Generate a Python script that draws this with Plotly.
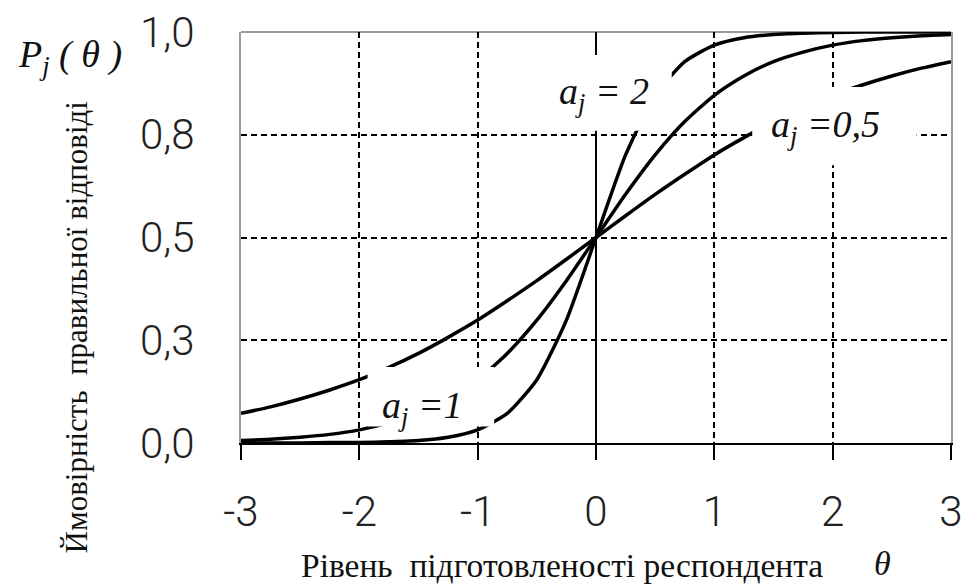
import plotly.graph_objects as go

# ---- data ----
theta = [-3.0, -2.75, -2.5, -2.25, -2.0, -1.75, -1.5, -1.25, -1.0, -0.75, -0.5, -0.25, 0.0,
         0.25, 0.5, 0.75, 1.0, 1.25, 1.5, 1.75, 2.0, 2.25, 2.5, 2.75, 3.0]
p_a05 = [0.072, 0.088, 0.107, 0.129, 0.154, 0.184, 0.218, 0.257, 0.299, 0.346, 0.395, 0.447, 0.500,
         0.553, 0.605, 0.654, 0.701, 0.743, 0.782, 0.816, 0.846, 0.871, 0.893, 0.912, 0.928]
p_a1 = [0.006, 0.009, 0.014, 0.021, 0.032, 0.049, 0.072, 0.107, 0.154, 0.218, 0.299, 0.395, 0.500,
        0.605, 0.701, 0.782, 0.846, 0.893, 0.928, 0.951, 0.968, 0.979, 0.986, 0.991, 0.994]
p_a2 = [0.000, 0.000, 0.000, 0.001, 0.001, 0.003, 0.006, 0.014, 0.032, 0.072, 0.154, 0.299, 0.500,
        0.701, 0.846, 0.928, 0.968, 0.986, 0.994, 0.997, 0.999, 1.000, 1.000, 1.000, 1.000]

x_tickvals = [-3, -2, -1, 0, 1, 2, 3]
x_ticktext = ["-3", "-2", "-1", "0", "1", "2", "3"]
y_tickvals = [0, 0.25, 0.5, 0.75, 1.0]
y_ticktext = ["0,0", "0,3", "0,5", "0,8", "1,0"]

label_a1 = "<i>a<sub>j</sub> =1</i>"
label_a2 = "<i>a<sub>j</sub> = 2</i>"
label_a05 = "<i>a<sub>j</sub> =0,5</i>"
x_title = "Рівень  підготовленості респондента"
y_title = "Ймовірність  правильної відповіді"

SERIF = "Liberation Serif, Times New Roman, serif"
TICKF = "Roboto, Liberation Sans, sans-serif"

fig = go.Figure()
for ys in (p_a05, p_a1, p_a2):
    fig.add_trace(go.Scatter(x=theta, y=ys, mode="lines",
                             line=dict(color="black", width=3.5, shape="spline", smoothing=0.6),
                             hoverinfo="skip"))

grid = dict(showgrid=True, gridcolor="black", gridwidth=2, griddash="6px,4px")
tickfont = dict(family=TICKF, size=42, color="#222", weight=300)

fig.update_xaxes(range=[-3, 3], tickmode="array", tickvals=x_tickvals, ticktext=x_ticktext,
                 automargin=False,
                 zeroline=True, zerolinecolor="black", zerolinewidth=2,
                 showline=True, linecolor="black", linewidth=2, mirror=False,
                 ticks="outside", ticklen=15, tickwidth=2, tickcolor="black",
                 ticklabelstandoff=16, tickfont=tickfont, **grid)
fig.update_yaxes(range=[0, 1], tickmode="array", tickvals=y_tickvals, ticktext=y_ticktext,
                 automargin=False,
                 zeroline=False, showline=True, linecolor="#9a9a9a", linewidth=2, mirror=True,
                 ticks="", ticklabelstandoff=36, tickfont=tickfont, **grid)

shapes = [
    # top border
    dict(type="line", xref="paper", yref="paper", x0=0, x1=1, y0=1, y1=1,
         line=dict(color="#9a9a9a", width=2), layer="between"),
    # white label backgrounds that interrupt the curves
    dict(type="rect", xref="x", yref="y", x0=-1.93, x1=-0.86, y0=0.04, y1=0.185,
         fillcolor="white", line=dict(width=0), layer="above"),
    dict(type="rect", xref="x", yref="y", x0=-0.47, x1=0.64, y0=0.76, y1=0.944,
         fillcolor="white", line=dict(width=0), layer="above"),
    dict(type="rect", xref="x", yref="y", x0=1.32, x1=2.71, y0=0.676, y1=0.866,
         fillcolor="white", line=dict(width=0), layer="above"),
]

lab_font = dict(family=SERIF, size=38, color="#111")
C = dict(showarrow=False, xanchor="center", yanchor="middle")
annotations = [
    dict(x=-1.47, y=0.085, xref="x", yref="y", text=label_a1, font=lab_font, **C),
    dict(x=0.07, y=0.85, xref="x", yref="y", text=label_a2, font=lab_font, **C),
    dict(x=1.94, y=0.77, xref="x", yref="y", text=label_a05, font=lab_font, **C),
    dict(x=0.452, y=-0.297, xref="paper", yref="paper", text=x_title,
         font=dict(family=SERIF, size=33.5, color="#111"), **C),
    dict(x=0.903, y=-0.293, xref="paper", yref="paper", text="<i>θ</i>",
         font=dict(family=SERIF, size=34, color="#111"), **C),
    dict(x=-0.232, y=0.282, xref="paper", yref="paper", text=y_title,
         textangle=-90, font=dict(family=SERIF, size=31, color="#111"), **C),
    dict(x=-0.241, y=0.939, xref="paper", yref="paper",
         text="<i>P</i><sub><i>j</i></sub><i> ( θ )</i>",
         font=dict(family=SERIF, size=38, color="#111"), **C),
]

fig.update_layout(width=964, height=584, margin=dict(l=241, r=13, t=32, b=141),
                  plot_bgcolor="white", paper_bgcolor="white", showlegend=False,
                  shapes=shapes, annotations=annotations)

fig.write_html("out.html")
